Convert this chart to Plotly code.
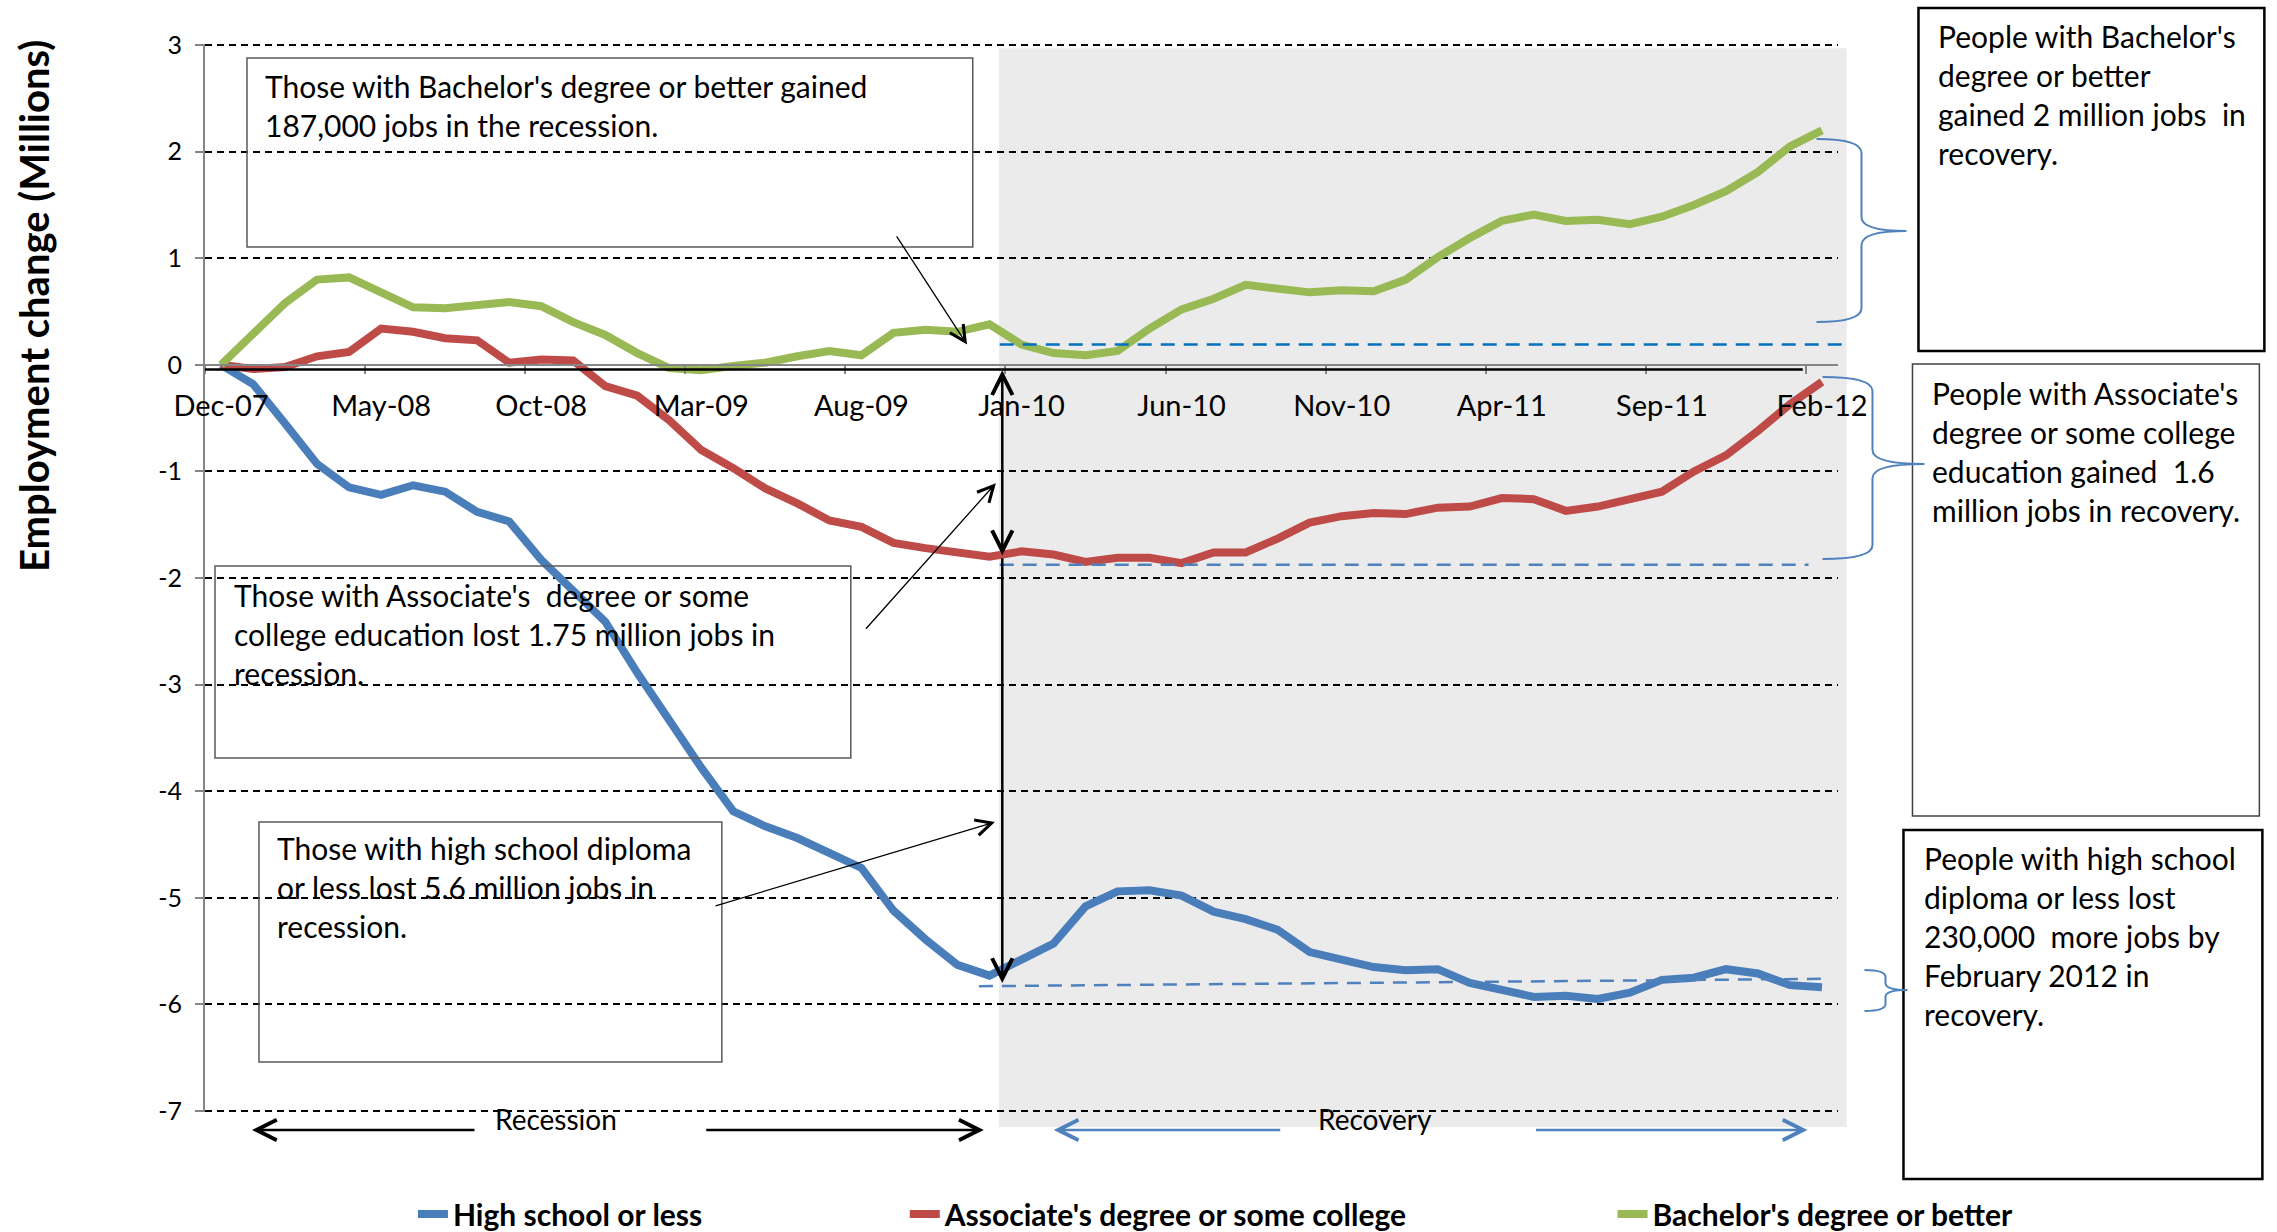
import pandas as pd
import plotly.graph_objects as go

# Monthly categories, Dec-07 .. Feb-12
MONTHS = pd.date_range("2007-12-01", periods=51, freq="MS").strftime("%b-%y").tolist()

# Employment change since Dec-07, millions
HIGH_SCHOOL = [
    0.00, -0.18, -0.55, -0.93, -1.15, -1.22, -1.13, -1.19, -1.38, -1.47,
    -1.83, -2.12, -2.41, -2.89, -3.34, -3.78, -4.19, -4.33, -4.44, -4.57,
    -4.72, -5.12, -5.39, -5.63, -5.73, -5.58, -5.43, -5.08, -4.94, -4.93,
    -4.98, -5.13, -5.20, -5.30, -5.51, -5.58, -5.65, -5.68, -5.67, -5.80,
    -5.87, -5.93, -5.92, -5.95, -5.89, -5.77, -5.75, -5.67, -5.71, -5.82,
    -5.84,
]
ASSOCIATE = [
    0.00, -0.04, -0.02, 0.08, 0.12, 0.34, 0.31, 0.25, 0.23, 0.02,
    0.05, 0.04, -0.20, -0.29, -0.52, -0.80, -0.97, -1.16, -1.30, -1.46,
    -1.52, -1.67, -1.72, -1.76, -1.80, -1.75, -1.78, -1.85, -1.81, -1.81,
    -1.86, -1.76, -1.76, -1.63, -1.48, -1.42, -1.39, -1.40, -1.34, -1.33,
    -1.25, -1.26, -1.37, -1.33, -1.26, -1.19, -1.00, -0.85, -0.62, -0.37,
    -0.16,
]
BACHELOR = [
    0.00, 0.28, 0.58, 0.80, 0.82, 0.68, 0.54, 0.53, 0.56, 0.59,
    0.55, 0.40, 0.28, 0.11, -0.03, -0.05, -0.01, 0.02, 0.08, 0.13,
    0.09, 0.30, 0.33, 0.31, 0.38, 0.19, 0.11, 0.09, 0.13, 0.34,
    0.52, 0.62, 0.75, 0.71, 0.68, 0.70, 0.69, 0.80, 1.01, 1.19,
    1.35, 1.41, 1.35, 1.36, 1.32, 1.39, 1.50, 1.63, 1.81, 2.05,
    2.20,
]

SERIES = [
    ("High school or less", HIGH_SCHOOL, "#4A7EBB"),
    ("Associate's degree or some college", ASSOCIATE, "#BE4B48"),
    ("Bachelor's degree or better", BACHELOR, "#98B954"),
]

Y_TICKS = list(range(-7, 4))
Y_TICKTEXT = [str(v) for v in Y_TICKS]

# recovery markers (category positions / levels)
RECOVERY_START = 24.4
BACHELOR_LEVEL = 0.19
ASSOCIATE_LEVEL = -1.875
HIGH_SCHOOL_LEVEL = (-5.83, -5.76)

W, H = 2277, 1232
ML, MR, MT, MB = 205, 438.5, 44, 120
X_RANGE = [-0.5, 50.5]
Y_RANGE = [-7.01, 3.01]
FONT = "Lato"


def px(xp):
    """pixel x -> paper"""
    return (xp - ML) / (W - ML - MR)


def py(yp):
    """pixel y -> paper"""
    return (H - MB - yp) / (H - MT - MB)


def dx(v):
    return (v - X_RANGE[0]) / (X_RANGE[1] - X_RANGE[0])


def dy(v):
    return (v - Y_RANGE[0]) / (Y_RANGE[1] - Y_RANGE[0])


fig = go.Figure()
legends = ["legend", "legend2", "legend3"]
for (name, vals, color), lg in zip(SERIES, legends):
    fig.add_trace(
        go.Scatter(
            x=MONTHS,
            y=vals,
            mode="lines",
            name=name,
            legend=lg,
            line=dict(color=color, width=8),
        )
    )

shapes = []
# recovery shading
shapes.append(dict(
    type="rect", xref="x domain", yref="y domain", layer="below",
    x0=dx(RECOVERY_START - 0.1), x1=dx(50.77), y0=dy(-7.15), y1=dy(2.97),
    fillcolor="#EBEBEB", line=dict(width=0),
))
# black line along zero
shapes.append(dict(
    type="line", xref="x domain", yref="y domain",
    x0=dx(-0.5), x1=dx(49.4), y0=dy(-0.045), y1=dy(-0.045),
    line=dict(color="black", width=2.5),
))
# dashed reference levels
shapes.append(dict(
    type="line", xref="x domain", yref="y domain",
    x0=dx(24.32), x1=dx(50.86), y0=dy(BACHELOR_LEVEL), y1=dy(BACHELOR_LEVEL),
    line=dict(color="#0070C0", width=2.5, dash="14px,9px"),
))
shapes.append(dict(
    type="line", xref="x domain", yref="y domain",
    x0=dx(24.32), x1=dx(49.58), y0=dy(ASSOCIATE_LEVEL), y1=dy(ASSOCIATE_LEVEL),
    line=dict(color="#4F81BD", width=2.5, dash="14px,9px"),
))
shapes.append(dict(
    type="line", xref="x domain", yref="y domain",
    x0=dx(23.67), x1=dx(50.23), y0=dy(HIGH_SCHOOL_LEVEL[0]), y1=dy(HIGH_SCHOOL_LEVEL[1]),
    line=dict(color="#4F81BD", width=2.5, dash="14px,9px"),
))


def box(x0, y0, x1, y1, color, width):
    shapes.append(dict(
        type="rect", xref="paper", yref="paper",
        x0=px(x0), x1=px(x1), y0=py(y1), y1=py(y0),
        line=dict(color=color, width=width),
    ))


# text boxes
box(247, 58, 973, 247, "#595959", 1.5)
box(215, 566, 851, 758, "#595959", 1.5)
box(259, 822, 722, 1062, "#595959", 1.5)
box(1919, 8, 2265, 351, "black", 2.5)
box(1913, 364, 2260, 816, "#404040", 1.5)
box(1904, 830, 2263, 1179, "black", 2.5)


def brace(x_end, x_spine, x_tip, y_top, y_mid, y_bot, r=14):
    p = lambda x, y: f"{px(x):.5f},{py(y):.5f}"
    path = (
        f"M{p(x_end, y_top)} Q{p(x_spine, y_top)} {p(x_spine, y_top + r)} "
        f"L{p(x_spine, y_mid - r)} Q{p(x_spine, y_mid)} {p(x_tip, y_mid)} "
        f"Q{p(x_spine, y_mid)} {p(x_spine, y_mid + r)} "
        f"L{p(x_spine, y_bot - r)} Q{p(x_spine, y_bot)} {p(x_end, y_bot)}"
    )
    shapes.append(dict(type="path", xref="paper", yref="paper", path=path,
                       line=dict(color="#4F81BD", width=2)))


brace(1817, 1862, 1907, 139, 231, 322)
brace(1823, 1873, 1925, 377, 464, 559)
brace(1865, 1886, 1908, 970, 990, 1011, r=7)

annotations = []


def note(text, x, y, size=30, **kw):
    annotations.append(dict(
        text=text, xref="paper", yref="paper", x=px(x), y=py(y),
        xanchor="left", yanchor="top", align="left", showarrow=False,
        font=dict(family=FONT, size=size, color="black"), borderpad=0, **kw,
    ))


note("Those with Bachelor's degree or better gained<br>187,000 jobs in the recession.", 264, 67)
note("Those with Associate's  degree or some<br>college education lost 1.75 million jobs in<br>recession.", 233, 576)
note("Those with high school diploma<br>or less lost 5.6 million jobs in<br>recession.", 276, 829)
note("People with Bachelor's<br>degree or better<br>gained 2 million jobs  in<br>recovery.", 1938, 17)
note("People with Associate's<br>degree or some college<br>education gained  1.6<br>million jobs in recovery.", 1932, 374)
note("People with high school<br>diploma or less lost<br>230,000  more jobs by<br>February 2012 in<br>recovery.", 1924, 839)

for label, cx in (("Recession", 556), ("Recovery", 1375)):
    annotations.append(dict(
        text=label, xref="paper", yref="paper", x=px(cx), y=py(1119),
        xanchor="center", yanchor="middle", showarrow=False,
        font=dict(family=FONT, size=28, color="black"),
    ))

annotations.append(dict(
    text="<b>Employment change (Millions)</b>", xref="paper", yref="paper",
    x=px(34), y=py(306), xanchor="center", yanchor="middle", textangle=-90,
    showarrow=False, font=dict(family=FONT, size=40, color="black"),
))


def paper_arrow(hx, hy, tx, ty, color, width, size):
    annotations.append(dict(
        text="", xref="paper", yref="paper", x=px(hx), y=py(hy),
        axref="pixel", ayref="pixel", ax=tx - hx, ay=ty - hy,
        showarrow=True, arrowhead=5, arrowsize=size, arrowwidth=width,
        arrowcolor=color, standoff=0,
    ))


paper_arrow(252, 1130, 476, 1130, "black", 2.5, 1.6)
paper_arrow(984, 1130, 705, 1130, "black", 2.5, 1.6)
paper_arrow(1054, 1130, 1282, 1130, "#4F81BD", 2.5, 1.6)
paper_arrow(1808, 1130, 1535, 1130, "#4F81BD", 2.5, 1.6)


def data_arrow(hx, hy, tx, ty, width, size, side="end"):
    annotations.append(dict(
        text="", xref="x", yref="y", x=hx, y=hy, axref="x", ayref="y",
        ax=tx, ay=ty, showarrow=True, arrowhead=5, startarrowhead=5,
        arrowside=side, arrowsize=size, startarrowsize=size,
        arrowwidth=width, arrowcolor="black", standoff=0, startstandoff=0,
    ))


# call-out arrows from the recession notes
data_arrow(23.3, 0.19, 21.07, 1.22, 1.3, 2.4)
data_arrow(24.2, -1.11, 20.1, -2.49, 1.3, 2.4)
data_arrow(24.17, -4.29, 15.4, -5.08, 1.3, 2.4)
# vertical loss arrows at the trough
data_arrow(RECOVERY_START, -0.05, RECOVERY_START, -1.80, 2.5, 1.6, side="end+start")
data_arrow(RECOVERY_START, -5.80, RECOVERY_START, -1.80, 2.5, 1.6)

legend_style = dict(
    orientation="h", xanchor="left", yanchor="middle", y=py(1214),
    font=dict(family=FONT, size=30, color="black", weight="bold"),
    bgcolor="rgba(0,0,0,0)", borderwidth=0,
)

fig.update_layout(
    width=W,
    height=H,
    autosize=False,
    margin=dict(l=ML, r=MR, t=MT, b=MB, pad=0, autoexpand=False),
    paper_bgcolor="white",
    plot_bgcolor="white",
    font=dict(family=FONT, color="black"),
    showlegend=True,
    shapes=shapes,
    annotations=annotations,
    legend=dict(x=px(413), **legend_style),
    legend2=dict(x=px(905), **legend_style),
    legend3=dict(x=px(1613), **legend_style),
    xaxis=dict(
        type="category",
        range=X_RANGE,
        tickmode="linear",
        tick0=0,
        dtick=5,
        tickson="boundaries",
        ticks="outside",
        ticklen=8,
        tickwidth=1.5,
        tickcolor="#868686",
        tickangle=0,
        showline=True,
        linecolor="#868686",
        linewidth=2,
        showgrid=False,
        zeroline=False,
        anchor="free",
        position=dy(0),
        tickfont=dict(family=FONT, size=29, color="black"),
        ticklabelstandoff=15,
    ),
    yaxis=dict(
        range=Y_RANGE,
        tickmode="array",
        tickvals=Y_TICKS,
        ticktext=Y_TICKTEXT,
        showgrid=True,
        gridcolor="black",
        gridwidth=1.6,
        griddash="7px,5px",
        zeroline=False,
        showline=True,
        linecolor="#868686",
        linewidth=2,
        ticks="outside",
        ticklen=8,
        tickwidth=1.5,
        tickcolor="#868686",
        tickfont=dict(family=FONT, size=25, color="black"),
        ticklabelstandoff=8,
    ),
)

fig.write_html(
    "out.html",
    config={"displayModeBar": False},
    post_script="document.body.style.margin='0';",
)
